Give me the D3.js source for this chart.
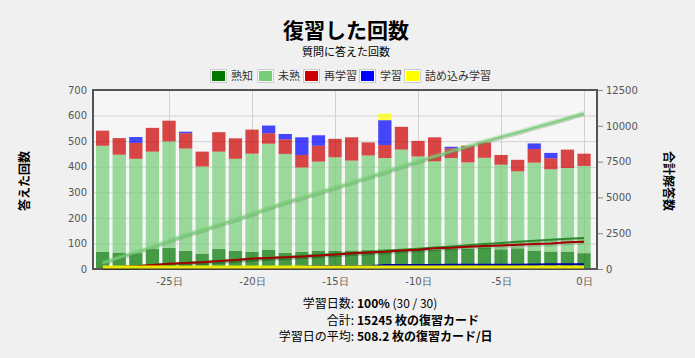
<!DOCTYPE html>
<html>
<head>
<meta charset="utf-8">
<script src="https://cdn.jsdelivr.net/npm/d3@7/dist/d3.min.js"></script>
<style>
  body { margin: 0; background: #f0f0f0; font-family: "Noto Sans CJK JP", "DejaVu Sans", sans-serif; }
  svg { display: block; }
</style>
</head>
<body>
<svg id="chart" width="695" height="358"></svg>
<script>
// days back from today, one bar each
var days = d3.range(-29, 1);

// review counts per day
var mature  = [67,64,62,78,82,71,60,78,71,67,75,63,67,71,71,72,74,77,78,75,76,79,80,85,77,81,72,68,68,62];
var young   = [415,383,369,381,417,400,341,381,360,384,415,387,330,349,366,352,370,357,389,365,345,355,337,350,331,301,344,322,327,341];
var relearn = [59,65,62,93,81,60,58,76,80,94,41,57,49,62,72,91,51,51,89,61,94,38,65,60,38,45,53,43,72,48];
var learn   = [0,0,23,0,0,6,0,0,0,0,30,21,69,41,0,0,0,97,0,0,0,6,0,0,0,0,22,21,0,0];
var cram    = [0,0,0,0,0,0,0,0,0,0,0,0,0,0,0,0,0,26,0,0,0,0,0,0,0,0,0,0,0,0];

var keys = ['mature', 'young', 'relearn', 'learn', 'cram'];
var names = ['熟知', '未熟', '再学習', '学習', '詰め込み学習'];
var colors = ['#007700', '#77cc77', '#cc0000', '#0000ff', '#ffff00'];
var lineColors = ['#2f8a2f', '#77cc77', '#a30000', '#0000a0', '#e8e800'];

var yTicks = [0,100,200,300,400,500,600,700];
var y2Ticks = [0,2500,5000,7500,10000,12500];
var xTicks = [-25,-20,-15,-10,-5,0];

var svg = d3.select('#chart');

var x = d3.scaleLinear().domain([-29.58, 0.78]).range([93, 597]);
var y = d3.scaleLinear().domain([0, 700]).range([269, 90]);
var y2 = d3.scaleLinear().domain([0, 12500]).range([269, 90]);

// plot background
svg.append('rect').attr('x', 93).attr('y', 90).attr('width', 504).attr('height', 179)
  .attr('fill', '#f6f6f6');

// grid
svg.append('g').selectAll('line').data(yTicks.slice(1)).enter().append('line')
  .attr('x1', 93).attr('x2', 597).attr('y1', d => y(d) + 0.5).attr('y2', d => y(d) + 0.5)
  .attr('stroke', '#d2d2d2');
svg.append('g').selectAll('line').data(xTicks).enter().append('line')
  .attr('y1', 90).attr('y2', 269).attr('x1', d => Math.round(x(d)) + 0.5).attr('x2', d => Math.round(x(d)) + 0.5)
  .attr('stroke', '#d2d2d2');

// stacked bars
var table = days.map(function(d, i) {
  return {day: d, mature: mature[i], young: young[i], relearn: relearn[i], learn: learn[i], cram: cram[i]};
});
var stacked = d3.stack().keys(keys)(table);
var bw = (x(0.4) - x(-0.4));

svg.append('g').selectAll('g').data(stacked).enter().append('g')
  .attr('fill', (d, i) => colors[i]).attr('fill-opacity', 0.72)
  .selectAll('rect').data(d => d).enter().append('rect')
  .attr('x', d => x(d.data.day) - bw / 2)
  .attr('width', bw)
  .attr('y', d => y(d[1]))
  .attr('height', d => y(d[0]) - y(d[1]));

// frame
svg.append('rect').attr('x', 93).attr('y', 90).attr('width', 504).attr('height', 179)
  .attr('fill', 'none').attr('stroke', '#545454').attr('stroke-width', 2);

// cumulative lines on the right axis (drawn over the frame, like the original)
var series = [mature, young, relearn, learn, cram];
var order = [1, 0, 2, 3, 4];
var gl = svg.append('g');
order.forEach(function(k) {
  var run = 0;
  var pts = series[k].map(function(v, i) { run += v; return [days[i], run]; });
  var line = d3.line().x(d => x(d[0])).y(d => Math.min(y2(d[1]), 267));
  gl.append('path').attr('d', line(pts)).attr('fill', 'none')
    .attr('stroke', 'rgba(0,0,0,0.12)').attr('stroke-width', 3)
    .attr('transform', 'translate(0,1.5)');
  if (k == 1) {
    gl.append('path').attr('d', line(pts)).attr('fill', 'none')
      .attr('stroke', lineColors[k]).attr('stroke-opacity', 0.35).attr('stroke-width', 5);
  }
  gl.append('path').attr('d', line(pts)).attr('fill', 'none')
    .attr('stroke', lineColors[k]).attr('stroke-width', k == 4 ? 3 : 2)
    .attr('stroke-opacity', k == 1 ? 0.85 : 1);
});

// axes
var tickFont = '10px';
var ax = svg.append('g').attr('transform', 'translate(0,271)')
  .call(d3.axisBottom(x).tickValues(xTicks).tickSize(0).tickFormat(d => d + '日'));
ax.select('.domain').remove();
ax.selectAll('text').attr('dy', '1.1em');

var ayl = svg.append('g').attr('transform', 'translate(90,0)')
  .call(d3.axisLeft(y).tickValues(yTicks).tickSize(0).tickFormat(d => d));
ayl.select('.domain').remove();

var ayr = svg.append('g').attr('transform', 'translate(598,0)')
  .call(d3.axisRight(y2).tickValues(y2Ticks).tickSize(5).tickPadding(3).tickFormat(d => d));
ayr.select('.domain').remove();
ayr.selectAll('line').attr('stroke', '#888');

svg.selectAll('.tick text').attr('fill', '#555').style('font-size', tickFont)
  .style('font-family', '"DejaVu Sans", sans-serif');

// titles
svg.append('text').attr('x', 346).attr('y', 38).attr('text-anchor', 'middle')
  .style('font-size', '21px').style('font-weight', 'bold').text('復習した回数');
svg.append('text').attr('x', 346).attr('y', 56).attr('text-anchor', 'middle')
  .style('font-size', '11px').text('質問に答えた回数');

svg.append('text').attr('transform', 'translate(29,181) rotate(-90)').attr('text-anchor', 'middle')
  .style('font-size', '12px').style('font-weight', 'bold').text('答えた回数');
svg.append('text').attr('transform', 'translate(664,181) rotate(90)').attr('text-anchor', 'middle')
  .style('font-size', '12px').style('font-weight', 'bold').text('合計解答数');

// legend
var legendX = [210, 257, 303, 359, 404];
var lg = svg.append('g').selectAll('g').data(names).enter().append('g')
  .attr('transform', (d, i) => 'translate(' + legendX[i] + ',69)');
lg.append('rect').attr('x', 0.5).attr('y', 0.5).attr('width', 16).attr('height', 13)
  .attr('fill', '#fff').attr('stroke', '#ccc');
lg.append('rect').attr('x', 2).attr('y', 2).attr('width', 13).attr('height', 10)
  .attr('fill', (d, i) => colors[i]);
lg.append('text').attr('x', 21).attr('y', 11).style('font-size', '11px').attr('fill', '#333')
  .text(d => d);

// summary text
var rows = [
  ['学習日数: ', [['100%', true], [' (30 / 30)', false]]],
  ['合計: ', [['15245 枚の復習カード', true]]],
  ['学習日の平均: ', [['508.2 枚の復習カード/日', true]]]
];
var rowY = [308, 325, 341];
rows.forEach(function(r, i) {
  svg.append('text').attr('x', 354).attr('y', rowY[i]).attr('text-anchor', 'end')
    .style('font-size', '12px').text(r[0]);
  var t = svg.append('text').attr('x', 357).attr('y', rowY[i]).style('font-size', '12px');
  r[1].forEach(function(p) {
    t.append('tspan').style('font-weight', p[1] ? 'bold' : 'normal').text(p[0]);
  });
});
</script>
</body>
</html>
